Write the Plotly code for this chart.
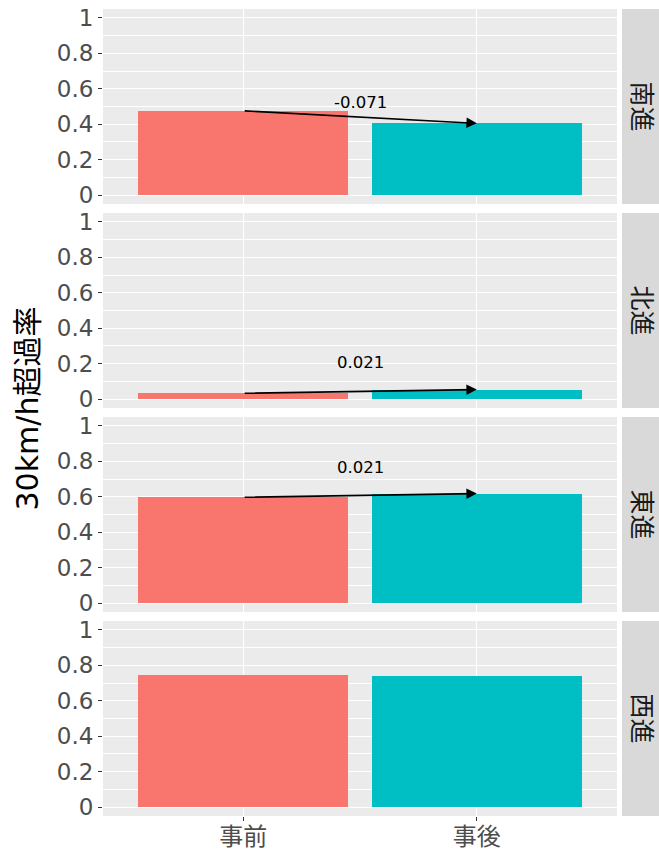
import plotly.graph_objects as go
from plotly.subplots import make_subplots

# ---- data ----
directions = ["南進", "北進", "東進", "西進"]
periods = ["事前", "事後"]
before_vals = [0.476, 0.033, 0.597, 0.743]
after_vals = [0.405, 0.054, 0.618, 0.741]
diff_labels = ["-0.071", "0.021", "0.021", None]
y_tick_vals = [0, 0.2, 0.4, 0.6, 0.8, 1.0]
y_tick_text = ["0", "0.2", "0.4", "0.6", "0.8", "1"]
y_title = "30km/h超過率"

# ---- style ----
C_BEFORE = "#F8766D"
C_AFTER = "#00BFC4"
FONT = "DejaVu Sans, Noto Sans CJK JP, sans-serif"
label_shift_px = [15, 29, 28, 28]

W, H = 659, 854
ML, MR, MT, MB = 103, 42, 9, 38
plot_w = W - ML - MR

n = len(directions)
fig = make_subplots(rows=n, cols=1, shared_xaxes=True, vertical_spacing=9 / (H - MT - MB))

for i, d in enumerate(directions):
    r = i + 1
    fig.add_trace(
        go.Bar(
            x=periods,
            y=[before_vals[i], after_vals[i]],
            marker=dict(color=[C_BEFORE, C_AFTER], line=dict(width=0)),
            width=0.9,
            showlegend=False,
            hoverinfo="skip",
        ),
        row=r, col=1,
    )
    suffix = "" if r == 1 else str(r)
    xref = "x" + suffix
    yref = "y" + suffix
    if diff_labels[i] is not None:
        fig.add_annotation(
            x=1, y=after_vals[i], ax=0, ay=before_vals[i],
            xref=xref, yref=yref, axref=xref, ayref=yref,
            text="", showarrow=True, arrowhead=2, arrowsize=1.3,
            arrowwidth=1.6, arrowcolor="black", standoff=0, startstandoff=0,
        )
        fig.add_annotation(
            x=0.5, y=(before_vals[i] + after_vals[i]) / 2,
            xref=xref, yref=yref, text=diff_labels[i], showarrow=False,
            xanchor="center", yanchor="middle",
            yshift=label_shift_px[i], font=dict(family=FONT, size=16.5, color="black"),
        )

fig.update_yaxes(
    range=[-0.05, 1.05],
    tickmode="array", tickvals=y_tick_vals, ticktext=y_tick_text,
    ticks="outside", ticklen=4, tickwidth=1, tickcolor="#333333",
    tickfont=dict(family=FONT, size=23, color="#4D4D4D"),
    ticklabeloverflow="allow",
    showgrid=True, gridcolor="white", gridwidth=1.2,
    minor=dict(tickvals=[0.1, 0.3, 0.5, 0.7, 0.9], showgrid=True, gridcolor="white", gridwidth=0.6),
    zeroline=False, showline=False,
)
fig.update_xaxes(
    type="category", range=[-0.6, 1.6],
    ticks="", tickfont=dict(family=FONT, size=24, color="#4D4D4D"),
    ticklabeloverflow="allow", ticklabelstandoff=-5,
    showgrid=True, gridcolor="white", gridwidth=1.2,
    zeroline=False, showline=False,
)
fig.update_xaxes(ticks="outside", ticklen=4, tickwidth=1, tickcolor="#333333", row=n, col=1)

# strips
layout = fig.layout
for i, d in enumerate(directions):
    r = i + 1
    ya = layout["yaxis" if r == 1 else "yaxis%d" % r]
    y0, y1 = ya.domain
    fig.add_shape(
        type="rect", xref="paper", yref="paper",
        x0=1 + 5 / plot_w, x1=1 + 42 / plot_w, y0=y0, y1=y1,
        fillcolor="#D9D9D9", line=dict(width=0), layer="below",
    )
    fig.add_annotation(
        xref="paper", yref="paper", x=1 + 24 / plot_w, y=(y0 + y1) / 2,
        xanchor="center", yanchor="middle",
        text=d, showarrow=False, textangle=90,
        font=dict(family=FONT, size=25, color="#1A1A1A"),
    )

fig.add_annotation(
    xref="paper", yref="paper", x=-76 / plot_w, y=0.505,
    xanchor="center", yanchor="middle",
    text=y_title, showarrow=False, textangle=-90,
    font=dict(family=FONT, size=30, color="black"),
)

fig.update_layout(
    width=W, height=H,
    margin=dict(l=ML, r=MR, t=MT, b=MB, autoexpand=False),
    paper_bgcolor="white", plot_bgcolor="#EBEBEB",
    bargap=0, showlegend=False,
)

fig.write_html(
    "out.html",
    config={"displayModeBar": False},
    post_script="document.body.style.margin='0';document.body.style.overflow='hidden';",
)
